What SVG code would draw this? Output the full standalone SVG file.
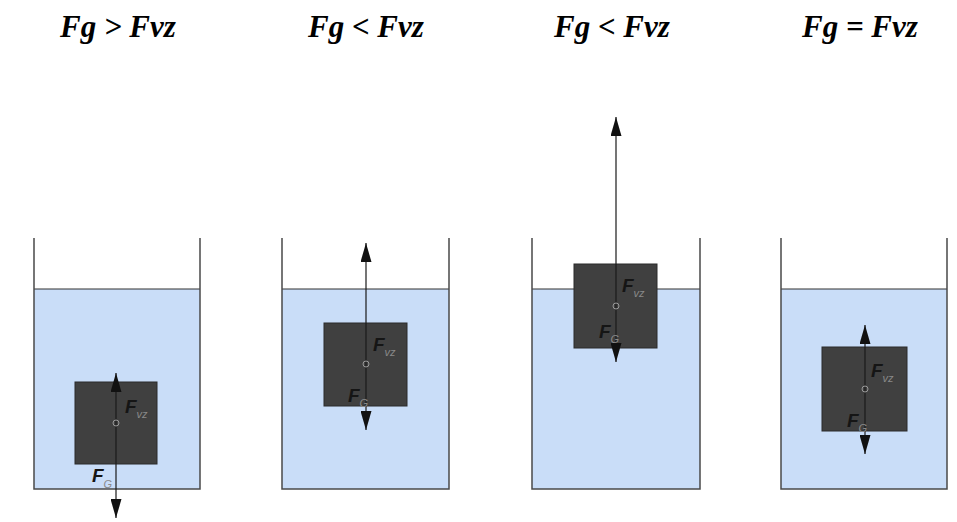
<svg xmlns="http://www.w3.org/2000/svg" width="957" height="522" viewBox="0 0 957 522">
<style>
.title{font-family:"Liberation Serif",serif;font-weight:bold;font-style:italic;font-size:31px;fill:#000}
.water{fill:#c9ddf8;stroke:none}
.wall{fill:none;stroke:#4a4a4a;stroke-width:1.5}
.surf{stroke:#333;stroke-width:1.2}
.block{fill:#404040;stroke:#2a2a2a;stroke-width:1}
.force{stroke:#1a1a1a;stroke-width:1.2;marker-end:url(#ah)}
.pt{fill:none;stroke:#9a9a9a;stroke-width:1}
.lbl{font-family:"Liberation Sans",sans-serif;font-style:italic;font-weight:bold;font-size:19px;fill:#151515}
.sub{font-size:11px;font-weight:normal;fill:#8a8a8a}
</style>
<defs>
<marker id="ah" markerUnits="userSpaceOnUse" markerWidth="19" markerHeight="11" refX="19" refY="5.5" orient="auto">
<path d="M0,0 L19,5.5 L0,11 z" fill="#111"/>
</marker>
</defs>
<g id="titles">
<text class="title" x="60" y="37">Fg &gt; Fvz</text>
<text class="title" x="308" y="37">Fg &lt; Fvz</text>
<text class="title" x="554" y="37">Fg &lt; Fvz</text>
<text class="title" x="802" y="37">Fg = Fvz</text>
</g>
<g id="container1">
<rect class="water" x="34" y="289" width="166" height="200"/>
<line class="surf" x1="34" y1="289" x2="200" y2="289"/>
<path class="wall" d="M34,238 V489 H200 V238"/>
<rect id="block1" class="block" x="75" y="382" width="82" height="82"/>
</g>
<g id="container2">
<rect class="water" x="282" y="289" width="167" height="200"/>
<line class="surf" x1="282" y1="289" x2="449" y2="289"/>
<path class="wall" d="M282,238 V489 H449 V238"/>
<rect id="block2" class="block" x="324" y="323" width="83" height="83"/>
</g>
<g id="container3">
<rect class="water" x="532" y="289" width="168" height="200"/>
<line class="surf" x1="532" y1="289" x2="700" y2="289"/>
<path class="wall" d="M532,238 V489 H700 V238"/>
<rect id="block3" class="block" x="574" y="264" width="83" height="84"/>
</g>
<g id="container4">
<rect class="water" x="781" y="289" width="166" height="200"/>
<line class="surf" x1="781" y1="289" x2="947" y2="289"/>
<path class="wall" d="M781,238 V489 H947 V238"/>
<rect id="block4" class="block" x="822" y="347" width="85" height="84"/>
</g>
<g id="connectors">
<line class="force" x1="116" y1="423" x2="116" y2="373"/>
<line class="force" x1="116" y1="423" x2="116" y2="518"/>
<line class="force" x1="366" y1="364" x2="366" y2="243"/>
<line class="force" x1="366" y1="364" x2="366" y2="430"/>
<line class="force" x1="616" y1="306" x2="616" y2="117"/>
<line class="force" x1="616" y1="306" x2="616" y2="362"/>
<line class="force" x1="865" y1="389" x2="865" y2="325"/>
<line class="force" x1="865" y1="389" x2="865" y2="454"/>
</g>
<g id="points">
<circle class="pt" cx="116" cy="423" r="3"/>
<circle class="pt" cx="366" cy="364" r="3"/>
<circle class="pt" cx="616" cy="306" r="3"/>
<circle class="pt" cx="865" cy="389" r="3"/>
</g>
<g id="labels">
<text class="lbl" x="125" y="413">F<tspan class="sub" dy="5">vz</tspan></text>
<text class="lbl" x="92" y="482">F<tspan class="sub" dy="6">G</tspan></text>
<text class="lbl" x="373" y="351">F<tspan class="sub" dy="5">vz</tspan></text>
<text class="lbl" x="348" y="402">F<tspan class="sub" dy="5">G</tspan></text>
<text class="lbl" x="622" y="292">F<tspan class="sub" dy="5">vz</tspan></text>
<text class="lbl" x="599" y="338">F<tspan class="sub" dy="5">G</tspan></text>
<text class="lbl" x="871" y="377">F<tspan class="sub" dy="5">vz</tspan></text>
<text class="lbl" x="847" y="427">F<tspan class="sub" dy="5">G</tspan></text>
</g>
</svg>
